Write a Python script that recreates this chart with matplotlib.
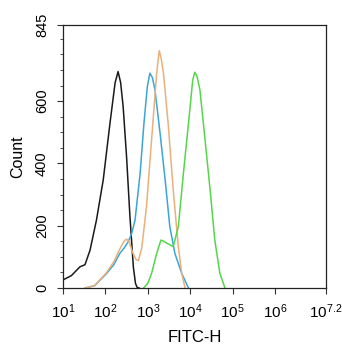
import matplotlib
matplotlib.use('Agg')
import matplotlib.pyplot as plt
import numpy as np

plt.rcParams['font.family'] = ['Liberation Sans', 'DejaVu Sans']
plt.rcParams['mathtext.fontset'] = 'custom'
plt.rcParams['mathtext.rm'] = 'Liberation Sans'
plt.rcParams['mathtext.it'] = 'Liberation Sans'

# log10(FITC-H) positions and counts
black_x = [1.00, 1.20, 1.40, 1.52, 1.64, 1.79, 1.95, 2.11, 2.23, 2.30, 2.36, 2.42,
           2.50, 2.58, 2.66, 2.71, 2.75, 2.80]
black_y = [26, 40, 68, 75, 122, 218, 347, 530, 659, 695, 660, 582,
           422, 229, 68, 15, 2, 0]

blue_x = [1.52, 1.75, 2.03, 2.20, 2.34, 2.45, 2.54, 2.62, 2.70, 2.82, 2.91, 2.99,
          3.05, 3.11, 3.17, 3.29, 3.41, 3.52, 3.64, 3.80, 3.96]
blue_y = [0, 8, 47, 75, 111, 130, 149, 175, 218, 369, 529, 647,
          690, 675, 636, 497, 347, 197, 111, 47, 0]

orange_x = [1.52, 1.75, 2.03, 2.20, 2.34, 2.44, 2.50, 2.56, 2.64, 2.72, 2.78, 2.86,
            2.97, 3.09, 3.21, 3.27, 3.32, 3.37, 3.48, 3.60, 3.72, 3.80, 3.88]
orange_y = [0, 8, 50, 85, 125, 150, 157, 150, 115, 92, 88, 130,
            261, 476, 690, 762, 735, 690, 529, 315, 133, 47, 0]

green_x = [2.90, 3.00, 3.09, 3.21, 3.31, 3.38, 3.45, 3.60, 3.72, 3.84, 3.96, 4.06,
           4.11, 4.16, 4.23, 4.35, 4.47, 4.58, 4.70, 4.82]
green_y = [0, 15, 47, 111, 154, 150, 144, 133, 197, 368, 529, 668,
           693, 680, 636, 476, 315, 154, 47, 0]

y_major = [0, 200, 400, 600, 845]
x_major_exp = [1, 2, 3, 4, 5, 6, 7.2]

fig = plt.figure(figsize=(3.42, 3.5), dpi=100)
ax = fig.add_axes([0.184, 0.177, 0.769, 0.752])

ax.plot(10 ** np.array(black_x), black_y, color='#1a1a1a', lw=1.1)
ax.plot(10 ** np.array(blue_x), blue_y, color='#3aa6d6', lw=1.1)
ax.plot(10 ** np.array(orange_x), orange_y, color='#eab07c', lw=1.1)
ax.plot(10 ** np.array(green_x), green_y, color='#55d64a', lw=1.1)

ax.set_xscale('log')
ax.set_xlim(10 ** 1, 10 ** 7.2)
ax.set_ylim(0, 845)

ax.set_xticks([10 ** e for e in x_major_exp])
ax.set_xticklabels([r'$10^{%g}$' % e for e in x_major_exp], fontsize=11)
ax.xaxis.set_minor_locator(matplotlib.ticker.LogLocator(base=10, subs=np.arange(2, 10)))
ax.xaxis.set_minor_formatter(matplotlib.ticker.NullFormatter())

ax.set_yticks(y_major)
ax.set_yticklabels([str(v) for v in y_major], rotation=90, va='center', fontsize=10.5)
ax.set_yticks(np.arange(50, 845, 50), minor=True)

ax.tick_params(which='major', direction='out', length=4, width=0.8, color='#333333')
ax.tick_params(which='minor', direction='out', length=2, width=0.6, color='#333333')
ax.tick_params(axis='y', pad=6)
ax.tick_params(axis='x', pad=6)

for s in ax.spines.values():
    s.set_linewidth(0.9)
    s.set_color('#222222')

ax.set_xlabel('FITC-H', fontsize=12, labelpad=7)
ax.set_ylabel('Count', fontsize=11.5, labelpad=7)

fig.savefig('out.png', dpi=100)
